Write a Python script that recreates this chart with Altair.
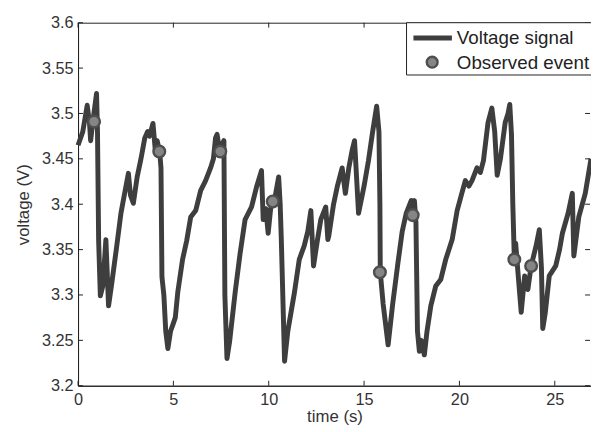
import altair as alt
import pandas as pd

# Signal trace (time in s, voltage in V)
t = [0.0, 0.25, 0.48, 0.6, 0.66, 0.8, 0.97, 1.02, 1.08, 1.17, 1.3, 1.46, 1.52, 1.6, 1.75,
     2.03, 2.25, 2.47, 2.64, 2.75, 2.9, 3.1, 3.3, 3.5, 3.65, 3.75, 3.93, 4.05, 4.15, 4.28,
     4.35, 4.4, 4.5, 4.6, 4.71, 4.85, 4.97, 5.1, 5.23, 5.48, 5.7, 5.91, 6.17, 6.43, 6.69,
     6.95, 7.1, 7.21, 7.29, 7.38, 7.47, 7.6, 7.65, 7.7, 7.81, 7.95, 8.24, 8.5, 8.76, 9.1,
     9.36, 9.62, 9.71, 9.85, 9.97, 10.1, 10.23, 10.35, 10.52, 10.6, 10.66, 10.83, 11.0,
     11.35, 11.6, 11.86, 12.05, 12.21, 12.35, 12.55, 12.73, 12.99, 13.1, 13.15, 13.4,
     13.59, 13.85, 14.02, 14.2, 14.37, 14.5, 14.71, 15.0, 15.23, 15.45, 15.66, 15.78,
     15.83, 15.85, 16.0, 16.26, 16.5, 16.78, 17.0, 17.21, 17.47, 17.55, 17.64, 17.72,
     17.8, 17.9, 18.0, 18.16, 18.3, 18.5, 18.76, 19.02, 19.28, 19.62, 19.88, 20.1, 20.31,
     20.5, 20.66, 20.92, 21.1, 21.26, 21.5, 21.7, 21.85, 21.98, 22.15, 22.4, 22.55, 22.64,
     22.73, 22.8, 22.88, 22.95, 23.05, 23.24, 23.42, 23.59, 23.76, 24.02, 24.19, 24.3,
     24.37, 24.5, 24.71, 25.05, 25.25, 25.4, 25.7, 25.92, 26.0, 26.26, 26.6, 26.9]
v = [3.465, 3.48, 3.509, 3.49, 3.47, 3.495, 3.522, 3.48, 3.36, 3.299, 3.31, 3.361, 3.33, 3.288, 3.31,
     3.354, 3.39, 3.415, 3.434, 3.41, 3.401, 3.43, 3.45, 3.473, 3.48, 3.475, 3.489, 3.46, 3.47, 3.458,
     3.44, 3.32, 3.30, 3.26, 3.241, 3.26, 3.267, 3.275, 3.303, 3.339, 3.36, 3.386, 3.393, 3.415, 3.426,
     3.44, 3.45, 3.473, 3.477, 3.465, 3.459, 3.468, 3.47, 3.30, 3.23, 3.249, 3.303, 3.346, 3.383, 3.397,
     3.419, 3.437, 3.383, 3.395, 3.368, 3.395, 3.403, 3.41, 3.43, 3.40, 3.361, 3.227, 3.26,
     3.303, 3.339, 3.354, 3.37, 3.393, 3.332, 3.36, 3.383, 3.397, 3.361, 3.365, 3.40,
     3.419, 3.44, 3.412, 3.44, 3.459, 3.47, 3.39, 3.42, 3.448, 3.48, 3.508, 3.48,
     3.40, 3.325, 3.29, 3.245, 3.29, 3.336, 3.37, 3.39, 3.404, 3.388, 3.404, 3.38,
     3.26, 3.238, 3.25, 3.234, 3.26, 3.288, 3.31, 3.317, 3.339, 3.361, 3.393, 3.41, 3.426,
     3.42, 3.426, 3.44, 3.435, 3.448, 3.49, 3.506, 3.48, 3.432, 3.45, 3.49, 3.50, 3.51,
     3.477, 3.40, 3.339, 3.357, 3.33, 3.281, 3.321, 3.306, 3.332, 3.354, 3.372, 3.33,
     3.263, 3.28, 3.321, 3.332, 3.35, 3.368, 3.39, 3.412, 3.343, 3.386, 3.412, 3.45]

# Observed events
event_t = [0.84, 4.26, 7.46, 10.21, 15.83, 17.55, 22.88, 23.76]
event_v = [3.491, 3.458, 3.458, 3.403, 3.325, 3.388, 3.339, 3.332]

x_ticks = [0, 5, 10, 15, 20, 25]
y_ticks = [3.2, 3.25, 3.3, 3.35, 3.4, 3.45, 3.5, 3.55, 3.6]

legend_labels = ["Voltage signal", "Observed event"]

W, H = 520, 368
FONT = "Liberation Sans"
LINE_COLOR = "#3e3e3e"
MK_FILL = "#858585"
MK_STROKE = "#4e4e4e"

sig = pd.DataFrame({"t": t, "v": v})
ev = pd.DataFrame({"t": event_t, "v": event_v})
xt = pd.DataFrame({"t": x_ticks})
yt = pd.DataFrame({"v": y_ticks})
lg = pd.DataFrame({"label": legend_labels})

xscale = alt.Scale(domain=[0, 26.9], nice=False, zero=False)
yscale = alt.Scale(domain=[3.2, 3.6], nice=False, zero=False)

xaxis = alt.Axis(values=x_ticks, title="time (s)", tickSize=0, labelPadding=6,
                 labelFlush=False, labelOverlap=False, grid=False, titlePadding=1)
yaxis = alt.Axis(values=y_ticks, title="voltage (V)", tickSize=0, labelPadding=5,
                 format="~g", labelFlush=False, labelOverlap=False, grid=False,
                 titlePadding=9)

line = alt.Chart(sig).mark_line(color=LINE_COLOR, strokeWidth=5, strokeJoin="round").encode(
    x=alt.X("t:Q", scale=xscale, axis=xaxis),
    y=alt.Y("v:Q", scale=yscale, axis=yaxis),
)

pts = alt.Chart(ev).mark_point(shape="circle", filled=False, fill=MK_FILL, stroke=MK_STROKE,
                               strokeWidth=2.4, size=140, opacity=1).encode(
    x=alt.X("t:Q", scale=xscale),
    y=alt.Y("v:Q", scale=yscale),
)

# Inward MATLAB-style ticks
tick_b = alt.Chart(xt).mark_rule(color="#222", strokeWidth=1).encode(
    x=alt.X("t:Q", scale=xscale), y=alt.value(H), y2=alt.value(H - 5))
tick_t = alt.Chart(xt).mark_rule(color="#222", strokeWidth=1).encode(
    x=alt.X("t:Q", scale=xscale), y=alt.value(0), y2=alt.value(5))
tick_l = alt.Chart(yt).mark_rule(color="#222", strokeWidth=1).encode(
    y=alt.Y("v:Q", scale=yscale), x=alt.value(0), x2=alt.value(5))
tick_r = alt.Chart(yt).mark_rule(color="#222", strokeWidth=1).encode(
    y=alt.Y("v:Q", scale=yscale), x=alt.value(W - 1), x2=alt.value(W - 6))

# Legend (drawn manually)
first = "datum.label == 'Voltage signal'"
second = "datum.label == 'Observed event'"
lg_box = alt.Chart(lg).transform_filter(first).mark_rect(
    fill="white", stroke="#222", strokeWidth=1).encode(
    x=alt.value(333), x2=alt.value(W + 10), y=alt.value(0), y2=alt.value(53))
lg_line = alt.Chart(lg).transform_filter(first).mark_rule(
    color=LINE_COLOR, strokeWidth=5).encode(
    x=alt.value(340), x2=alt.value(379), y=alt.value(15.5))
lg_pt = alt.Chart(lg).transform_filter(second).mark_point(
    shape="circle", filled=False, fill=MK_FILL, stroke=MK_STROKE, strokeWidth=2.4,
    size=120, opacity=1).encode(x=alt.value(359), y=alt.value(40))
lg_text1 = alt.Chart(lg).transform_filter(first).mark_text(
    align="left", baseline="middle", font=FONT, fontSize=19, color="#222").encode(
    text="label:N", x=alt.value(384), y=alt.value(16))
lg_text2 = alt.Chart(lg).transform_filter(second).mark_text(
    align="left", baseline="middle", font=FONT, fontSize=19, color="#222").encode(
    text="label:N", x=alt.value(384), y=alt.value(40.5))

chart = alt.layer(line, pts, tick_b, tick_t, tick_l, tick_r,
                  lg_box, lg_line, lg_pt, lg_text1, lg_text2).properties(
    width=W, height=H,
    padding={"left": 71, "top": 12, "right": 0, "bottom": 44},
    autosize=alt.AutoSizeParams(type="none"),
    background="white",
).configure_view(stroke="#222", strokeWidth=1).configure_axis(
    labelFont=FONT, titleFont=FONT, labelFontSize=16.5, titleFontSize=17,
    titleFontWeight="normal", labelColor="#333", titleColor="#333",
    domainColor="#222",
)

chart.save("out.html", embed_options={"renderer": "svg", "actions": False})
